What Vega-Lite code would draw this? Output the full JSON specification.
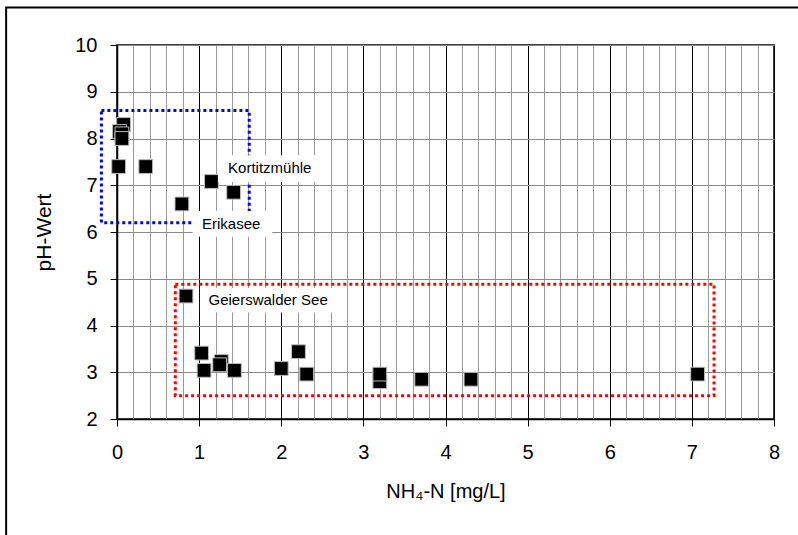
{
  "$schema": "https://vega.github.io/schema/vega-lite/v6.json",
  "width": 657,
  "height": 374,
  "autosize": {"type": "none"},
  "padding": {"left": 117, "top": 45, "right": 24, "bottom": 116},
  "background": "white",
  "config": {
    "font": "Liberation Sans",
    "view": {"stroke": "black", "strokeWidth": 1.5},
    "axis": {"labelFont": "Liberation Sans", "titleFont": "Liberation Sans"}
  },
  "datasets": {
    "points": [
      {"x": 0.08, "y": 8.3}, {"x": 0.03, "y": 8.15}, {"x": 0.06, "y": 8.1}, {"x": 0.06, "y": 8.0},
      {"x": 0.02, "y": 7.4}, {"x": 0.35, "y": 7.4}, {"x": 0.79, "y": 6.6},
      {"x": 1.15, "y": 7.08}, {"x": 1.42, "y": 6.85},
      {"x": 0.84, "y": 4.63}, {"x": 1.03, "y": 3.41}, {"x": 1.06, "y": 3.04},
      {"x": 1.27, "y": 3.23}, {"x": 1.25, "y": 3.16}, {"x": 1.43, "y": 3.04},
      {"x": 2.0, "y": 3.08}, {"x": 2.21, "y": 3.44}, {"x": 2.31, "y": 2.96},
      {"x": 3.2, "y": 2.8}, {"x": 3.2, "y": 2.96}, {"x": 3.71, "y": 2.85},
      {"x": 4.31, "y": 2.85}, {"x": 7.07, "y": 2.96}
    ],
    "groups": [
      {"x": -0.19, "x2": 1.61, "y": 8.6, "y2": 6.2, "group": "Erikasee/Kortitzmühle"},
      {"x": 0.71, "x2": 7.27, "y": 4.88, "y2": 2.5, "group": "Geierswalder See"}
    ],
    "labelboxes": [
      {"x": 1.23, "x2": 2.49, "y": 7.64, "y2": 7.07},
      {"x": 0.92, "x2": 1.89, "y": 6.45, "y2": 5.9},
      {"x": 1.01, "x2": 2.69, "y": 4.8, "y2": 4.28}
    ],
    "labeltexts": [
      {"x": 1.86, "y": 7.37, "text": "Kortitzmühle"},
      {"x": 1.39, "y": 6.18, "text": "Erikasee"},
      {"x": 1.84, "y": 4.55, "text": "Geierswalder See"}
    ],
    "frame": [
      {"x": -1.35, "x2": 8.6, "y": 10.8, "y2": -0.7}
    ]
  },
  "encoding": {
    "x": {
      "field": "x", "type": "quantitative",
      "scale": {"domain": [0, 8], "nice": false, "zero": false},
      "axis": {
        "title": "NH₄-N [mg/L]",
        "titleFontSize": 20, "titleFontWeight": "normal", "titleColor": "black", "titlePadding": 19,
        "tickCount": 40,
        "labelExpr": "datum.value % 1 === 0 ? '' + datum.value : ''",
        "labelFontSize": 20, "labelColor": "black", "labelPadding": 16,
        "labelFlush": false, "labelOverlap": false,
        "tickSize": 7, "tickColor": "black",
        "tickOpacity": {"condition": {"test": "datum.value % 1 === 0", "value": 1}, "value": 0},
        "domainColor": "black", "domainWidth": 1.5,
        "grid": true,
        "gridColor": {"condition": {"test": "datum.value % 1 === 0", "value": "#000000"}, "value": "#9a9a9a"},
        "gridWidth": 1, "gridOpacity": 1
      }
    },
    "y": {
      "field": "y", "type": "quantitative",
      "scale": {"domain": [2, 10], "nice": false, "zero": false},
      "axis": {
        "title": "pH-Wert",
        "titleFontSize": 21, "titleFontWeight": "normal", "titleColor": "black", "titlePadding": 20,
        "labelFontSize": 20, "labelColor": "black", "labelPadding": 13,
        "labelFlush": false,
        "tickSize": 7, "tickColor": "black",
        "domainColor": "black", "domainWidth": 1.5,
        "grid": true, "gridColor": "#8a8a8a", "gridWidth": 1, "gridOpacity": 1
      }
    }
  },
  "layer": [
    {
      "data": {"name": "frame"},
      "mark": {"type": "rect", "fill": null, "fillOpacity": 0, "stroke": "black", "strokeWidth": 2, "clip": false},
      "encoding": {
        "x2": {"field": "x2"},
        "y2": {"field": "y2"}
      }
    },
    {
      "data": {"name": "groups"},
      "mark": {"type": "rect", "fill": null, "fillOpacity": 0, "strokeWidth": 3, "strokeDash": [3, 3], "clip": false},
      "encoding": {
        "x2": {"field": "x2"},
        "y2": {"field": "y2"},
        "stroke": {
          "field": "group", "type": "nominal",
          "scale": {"domain": ["Erikasee/Kortitzmühle", "Geierswalder See"], "range": ["#0000ff", "#ff0000"]},
          "legend": null
        }
      }
    },
    {
      "data": {"name": "points"},
      "mark": {"type": "square", "size": 190, "color": "black", "filled": true, "opacity": 1, "stroke": "#bbbbbb", "strokeWidth": 1}
    },
    {
      "data": {"name": "labelboxes"},
      "mark": {"type": "rect", "fill": "white", "stroke": null},
      "encoding": {
        "x2": {"field": "x2"},
        "y2": {"field": "y2"}
      }
    },
    {
      "data": {"name": "labeltexts"},
      "mark": {"type": "text", "fontSize": 15, "color": "black", "align": "center", "baseline": "middle"},
      "encoding": {
        "text": {"field": "text"}
      }
    }
  ]
}
